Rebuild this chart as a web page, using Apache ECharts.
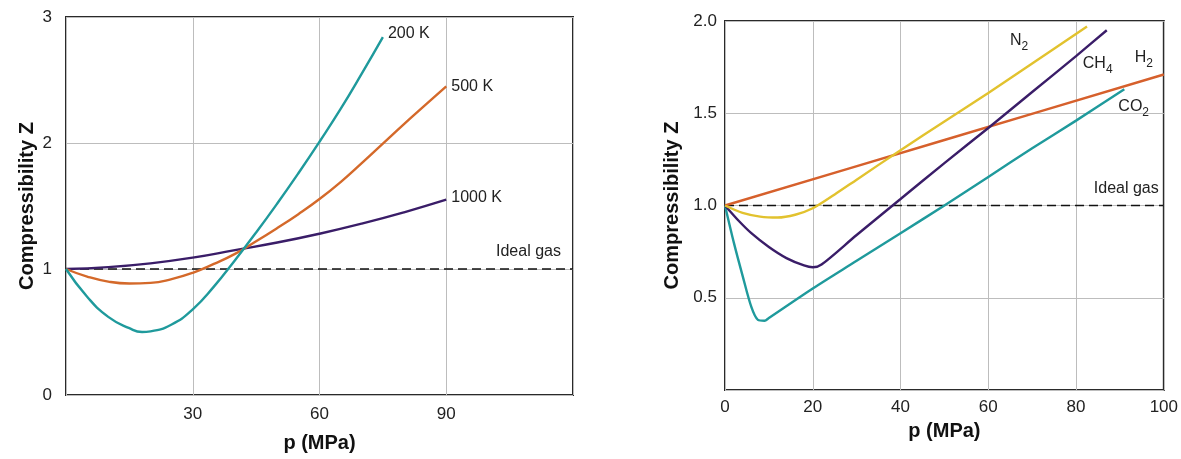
<!DOCTYPE html>
<html>
<head>
<meta charset="utf-8">
<script src="https://cdn.jsdelivr.net/npm/echarts@6/dist/echarts.min.js"></script>
<style>
  html, body { margin: 0; padding: 0; background: #fff; }
  #chart { width: 1181px; height: 459px; }
</style>
</head>
<body>
<div id="chart"></div>
<script>
// left panel: Z vs p for one gas at three temperatures
const pT200 = [0, 5, 10, 15, 18, 20, 25, 30, 35, 40, 45, 50, 55, 60, 65, 70, 75];
const zT200 = [1.0, 0.78, 0.62, 0.53, 0.50, 0.505, 0.56, 0.68, 0.86, 1.07, 1.29, 1.52, 1.76, 2.01, 2.27, 2.55, 2.84];
const pT500 = [0, 5, 10, 15, 20, 25, 30, 35, 40, 45, 50, 55, 60, 65, 70, 75, 80, 85, 90];
const zT500 = [1.0, 0.94, 0.90, 0.885, 0.89, 0.92, 0.97, 1.04, 1.12, 1.22, 1.325, 1.435, 1.555, 1.69, 1.84, 1.995, 2.15, 2.30, 2.45];
const pT1000 = [0, 10, 20, 30, 40, 50, 60, 70, 80, 90];
const zT1000 = [1.0, 1.015, 1.045, 1.09, 1.15, 1.21, 1.28, 1.36, 1.45, 1.55];
const leftXTicks = [30, 60, 90];

// right panel: Z vs p for several gases
const pN2 = [0, 4, 8, 12, 16, 20, 25, 30, 40, 50, 60, 70, 82.5];
const zN2 = [1.0, 0.96, 0.94, 0.935, 0.95, 0.985, 1.06, 1.14, 1.30, 1.455, 1.61, 1.77, 1.97];
const pCH4 = [0, 3, 6, 10, 14, 18, 20, 22, 30, 40, 50, 60, 70, 80, 87];
const zCH4 = [1.0, 0.92, 0.85, 0.775, 0.715, 0.675, 0.665, 0.68, 0.84, 1.035, 1.23, 1.42, 1.615, 1.81, 1.95];
const pH2 = [0, 50, 100];
const zH2 = [1.0, 1.355, 1.71];
const pCO2 = [0, 2, 4, 6, 7.5, 9, 10, 20, 30, 40, 50, 60, 70, 80, 91];
const zCO2 = [1.0, 0.80, 0.62, 0.45, 0.38, 0.375, 0.39, 0.55, 0.70, 0.85, 1.0, 1.155, 1.31, 1.46, 1.63];

const FONT = '"Liberation Sans", Arial, sans-serif';
const TEAL = '#1f9a9c';
const ORANGE = '#d4692a';
const PURPLE = '#3a1d68';
const YELLOW = '#e2c22e';
const RED_OR = '#d6602c';

const pairs = (xs, ys) => xs.map((x, i) => [x, ys[i]]);

const chart = echarts.init(document.getElementById('chart'));

function lineSeries(idx, data, color, label, offset, smooth) {
    return {
        type: 'line',
        xAxisIndex: idx,
        yAxisIndex: idx,
        data: data,
        showSymbol: false,
        smooth: smooth,
        lineStyle: { color: color, width: 2.4 },
        itemStyle: { color: color },
        silent: true,
        z: 3,
        endLabel: {
            show: true,
            formatter: label,
            offset: offset,
            distance: 5,
            color: '#222',
            fontFamily: FONT,
            fontSize: 16,
            rich: {
                b: { fontSize: 16, fontFamily: FONT, color: '#222' },
                s: { fontSize: 12, fontFamily: FONT, color: '#222', padding: [12, 0, 0, 0] }
            }
        }
    };
}

function idealSeries(idx, xMax, offset) {
    return {
        type: 'line',
        xAxisIndex: idx,
        yAxisIndex: idx,
        data: [[0, 1], [xMax, 1]],
        showSymbol: false,
        silent: true,
        lineStyle: { color: '#111', width: 1.3, type: [9, 5] },
        z: 2,
        endLabel: {
            show: true,
            formatter: 'Ideal gas',
            offset: offset,
            color: '#222',
            fontFamily: FONT,
            fontSize: 16
        }
    };
}

const axisLabelStyle = { color: '#222', fontSize: 17, fontFamily: FONT };
const nameStyle = { color: '#111', fontSize: 20, fontWeight: 'bold', fontFamily: FONT };
const split = { show: true, lineStyle: { color: '#bdbdbd', width: 1 } };

const option = {
    animation: false,
    backgroundColor: '#fff',
    grid: [
        { left: 66, top: 17, width: 507, height: 378, show: true, borderColor: '#2a2a2a', borderWidth: 2, backgroundColor: '#fff' },
        { left: 725, top: 21, width: 442, height: 369, show: true, borderColor: '#2a2a2a', borderWidth: 2, backgroundColor: '#fff' }
    ],
    xAxis: [
        {
            gridIndex: 0, type: 'value', min: 0, max: 120, interval: 30,
            name: 'p (MPa)', nameLocation: 'middle', nameGap: 38, nameTextStyle: nameStyle,
            axisLine: { show: false }, axisTick: { show: false },
            axisLabel: Object.assign({ margin: 11, formatter: v => leftXTicks.includes(v) ? String(v) : '' }, axisLabelStyle),
            splitLine: split
        },
        {
            gridIndex: 1, type: 'value', min: 0, max: 100, interval: 20,
            name: 'p (MPa)', nameLocation: 'middle', nameGap: 31, nameTextStyle: nameStyle,
            axisLine: { show: false }, axisTick: { show: false },
            axisLabel: Object.assign({ margin: 9 }, axisLabelStyle),
            splitLine: split
        }
    ],
    yAxis: [
        {
            gridIndex: 0, type: 'value', min: 0, max: 3, interval: 1,
            name: 'Compressibility Z', nameLocation: 'middle', nameGap: 29, nameTextStyle: nameStyle,
            axisLine: { show: false }, axisTick: { show: false },
            axisLabel: Object.assign({ margin: 14 }, axisLabelStyle),
            splitLine: split
        },
        {
            gridIndex: 1, type: 'value', min: 0, max: 2, interval: 0.5,
            name: 'Compressibility Z', nameLocation: 'middle', nameGap: 43, nameTextStyle: nameStyle,
            axisLine: { show: false }, axisTick: { show: false },
            axisLabel: Object.assign({ margin: 8, formatter: v => v === 0 ? '' : v.toFixed(1) }, axisLabelStyle),
            splitLine: split
        }
    ],
    series: [
        idealSeries(0, 120, [-85, -17]),
        lineSeries(0, pairs(pT1000, zT1000), PURPLE, '1000 K', [0, -2], 0.5),
        lineSeries(0, pairs(pT500, zT500), ORANGE, '500 K', [0, 0], 0.5),
        lineSeries(0, pairs(pT200, zT200), TEAL, '200 K', [0, -4], 0.5),

        idealSeries(1, 100, [-78, -17]),
        lineSeries(1, pairs(pH2, zH2), RED_OR, '{b|H}{s|2}', [-34, -17], 0.3),
        lineSeries(1, pairs(pCO2, zCO2), TEAL, '{b|CO}{s|2}', [-11, 17], 0.3),
        lineSeries(1, pairs(pCH4, zCH4), PURPLE, '{b|CH}{s|4}', [-29, 33], 0.3),
        lineSeries(1, pairs(pN2, zN2), YELLOW, '{b|N}{s|2}', [-82, 14], 0.3)
    ]
};

chart.setOption(option);
</script>
</body>
</html>
